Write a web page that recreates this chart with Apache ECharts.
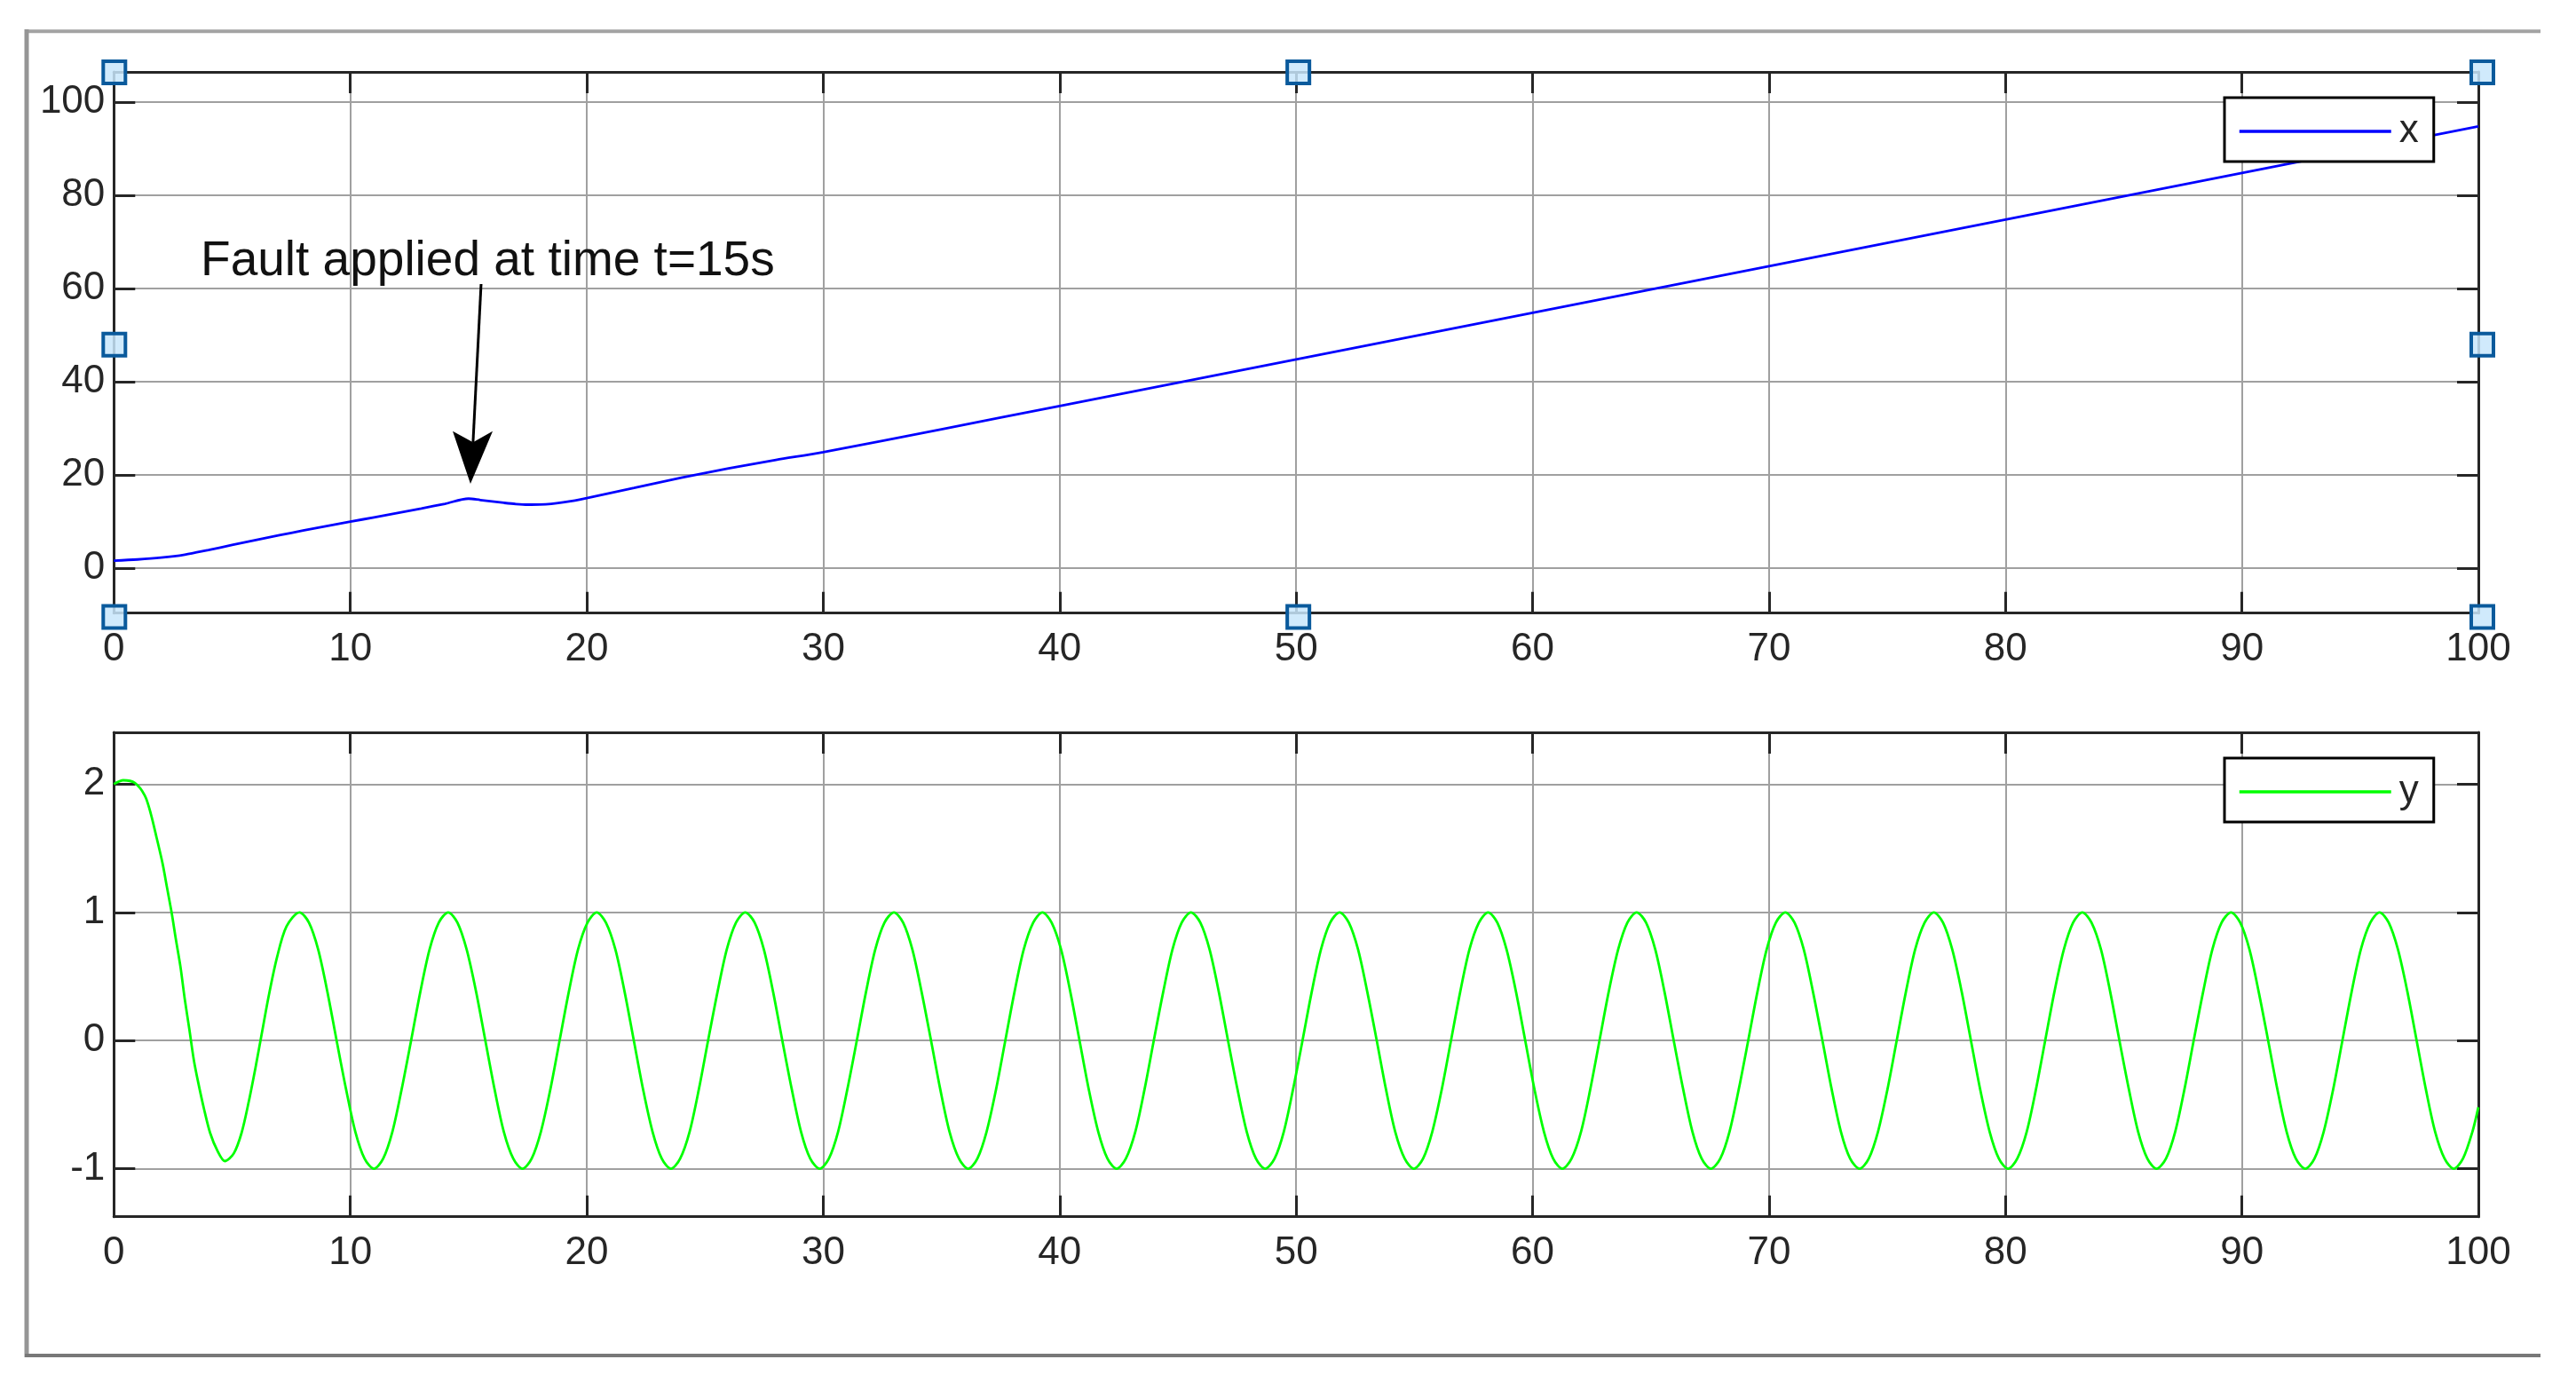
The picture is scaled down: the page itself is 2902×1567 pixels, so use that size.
<!DOCTYPE html>
<html>
<head>
<meta charset="utf-8">
<script src="https://cdn.jsdelivr.net/npm/echarts@6/dist/echarts.min.js"></script>
<style>
html,body{margin:0;padding:0;background:#ffffff;}
#c{width:2902px;height:1567px;}
</style>
</head>
<body>
<div id="c"></div>
<script>
// ---------------- data ----------------
const timeTicks = [0, 10, 20, 30, 40, 50, 60, 70, 80, 90, 100];
const posTicks = [0, 20, 40, 60, 80, 100];
const oscTicks = [-1, 0, 1, 2];

const posTime = [0, 1, 2, 3, 4, 5, 6, 7, 8, 9, 10, 11, 12, 13, 14, 15, 15.5, 16, 16.5, 17, 17.5, 18, 18.5, 19, 19.5, 20,
  22, 24, 26, 28, 30, 35, 40, 50, 60, 70, 80, 90, 100];
const posValue = [1.6, 1.85, 2.25, 2.9, 3.9, 4.95, 6.0, 7.05, 8.05, 9.0, 9.95, 10.9, 11.85, 12.8, 13.8, 14.9, 14.6, 14.3, 14.0, 13.75, 13.62, 13.65, 13.8, 14.1, 14.5, 15.0,
  17.2, 19.4, 21.4, 23.2, 24.9, 29.8, 34.8, 44.8, 54.8, 64.8, 74.8, 84.8, 94.8];

const oscTime = [0, 0.4, 0.88, 1.31, 1.56, 1.81, 2.06, 2.25, 2.44, 2.63, 2.82, 3.0, 3.19, 3.38, 3.57, 3.82, 4.07, 4.38, 4.69, 5.07, 5.4, 5.7, 6.0, 6.25, 6.55, 6.9, 7.3,
  7.85, 8.25, 8.64, 9.03, 9.42, 9.82, 10.21, 10.60, 11.00, 11.39, 11.78, 12.17, 12.57, 12.96, 13.35, 13.74,
  14.14, 14.53, 14.92, 15.32, 15.71, 16.10, 16.49, 16.89, 17.28, 17.67, 18.06, 18.46, 18.85, 19.24, 19.63, 20.03,
  20.42, 20.81, 21.21, 21.60, 21.99, 22.38, 22.78, 23.17, 23.56, 23.95, 24.35, 24.74, 25.13, 25.53, 25.92, 26.31,
  26.70, 27.10, 27.49, 27.88, 28.27, 28.67, 29.06, 29.45, 29.85, 30.24, 30.63, 31.02, 31.42, 31.81, 32.20, 32.59,
  32.99, 33.38, 33.77, 34.16, 34.56, 34.95, 35.34, 35.74, 36.13, 36.52, 36.91, 37.31, 37.70, 38.09, 38.48, 38.88,
  39.27, 39.66, 40.06, 40.45, 40.84, 41.23, 41.63, 42.02, 42.41, 42.80, 43.20, 43.59, 43.98, 44.38, 44.77, 45.16,
  45.55, 45.95, 46.34, 46.73, 47.12, 47.52, 47.91, 48.30, 48.69, 49.09, 49.48, 49.87, 50.27, 50.66, 51.05, 51.44,
  51.84, 52.23, 52.62, 53.01, 53.41, 53.80, 54.19, 54.59, 54.98, 55.37, 55.76, 56.16, 56.55, 56.94, 57.33, 57.73,
  58.12, 58.51, 58.90, 59.30, 59.69, 60.08, 60.48, 60.87, 61.26, 61.65, 62.05, 62.44, 62.83, 63.22, 63.62, 64.01,
  64.40, 64.80, 65.19, 65.58, 65.97, 66.37, 66.76, 67.15, 67.54, 67.94, 68.33, 68.72, 69.12, 69.51, 69.90, 70.29,
  70.69, 71.08, 71.47, 71.86, 72.26, 72.65, 73.04, 73.43, 73.83, 74.22, 74.61, 75.01, 75.40, 75.79, 76.18, 76.58,
  76.97, 77.36, 77.75, 78.15, 78.54, 78.93, 79.33, 79.72, 80.11, 80.50, 80.90, 81.29, 81.68, 82.07, 82.47, 82.86,
  83.25, 83.64, 84.04, 84.43, 84.82, 85.22, 85.61, 86.00, 86.39, 86.79, 87.18, 87.57, 87.96, 88.36, 88.75, 89.14,
  89.54, 89.93, 90.32, 90.71, 91.11, 91.50, 91.89, 92.28, 92.68, 93.07, 93.46, 93.86, 94.25, 94.64, 95.03, 95.43,
  95.82, 96.21, 96.60, 97.00, 97.39, 97.78, 98.17, 98.57, 98.96, 99.35, 99.75, 100];
const oscValue = [2.0, 2.03, 2.01, 1.91, 1.77, 1.58, 1.38, 1.19, 1.0, 0.78, 0.57, 0.32, 0.09, -0.15, -0.33, -0.54, -0.72, -0.86, -0.94, -0.88, -0.72, -0.48, -0.2, 0.05, 0.35, 0.65, 0.89,
  1, 0.92, 0.71, 0.38, 0, -0.38, -0.71, -0.92, -1, -0.92, -0.71, -0.38, 0, 0.38, 0.71, 0.92,
  1, 0.92, 0.71, 0.38, 0, -0.38, -0.71, -0.92, -1, -0.92, -0.71, -0.38, 0, 0.38, 0.71, 0.92,
  1, 0.92, 0.71, 0.38, 0, -0.38, -0.71, -0.92, -1, -0.92, -0.71, -0.38, 0, 0.38, 0.71, 0.92,
  1, 0.92, 0.71, 0.38, 0, -0.38, -0.71, -0.92, -1, -0.92, -0.71, -0.38, 0, 0.38, 0.71, 0.92,
  1, 0.92, 0.71, 0.38, 0, -0.38, -0.71, -0.92, -1, -0.92, -0.71, -0.38, 0, 0.38, 0.71, 0.92,
  1, 0.92, 0.71, 0.38, 0, -0.38, -0.71, -0.92, -1, -0.92, -0.71, -0.38, 0, 0.38, 0.71, 0.92,
  1, 0.92, 0.71, 0.38, 0, -0.38, -0.71, -0.92, -1, -0.92, -0.71, -0.38, 0, 0.38, 0.71, 0.92,
  1, 0.92, 0.71, 0.38, 0, -0.38, -0.71, -0.92, -1, -0.92, -0.71, -0.38, 0, 0.38, 0.71, 0.92,
  1, 0.92, 0.71, 0.38, 0, -0.38, -0.71, -0.92, -1, -0.92, -0.71, -0.38, 0, 0.38, 0.71, 0.92,
  1, 0.92, 0.71, 0.38, 0, -0.38, -0.71, -0.92, -1, -0.92, -0.71, -0.38, 0, 0.38, 0.71, 0.92,
  1, 0.92, 0.71, 0.38, 0, -0.38, -0.71, -0.92, -1, -0.92, -0.71, -0.38, 0, 0.38, 0.71, 0.92,
  1, 0.92, 0.71, 0.38, 0, -0.38, -0.71, -0.92, -1, -0.92, -0.71, -0.38, 0, 0.38, 0.71, 0.92,
  1, 0.92, 0.71, 0.38, 0, -0.38, -0.71, -0.92, -1, -0.92, -0.71, -0.38, 0, 0.38, 0.71, 0.92,
  1, 0.92, 0.71, 0.38, 0, -0.38, -0.71, -0.92, -1, -0.92, -0.71, -0.38, 0, 0.38, 0.71, 0.92,
  1, 0.92, 0.71, 0.38, 0, -0.38, -0.71, -0.92, -1, -0.92, -0.71, -0.52];

const annotationText = 'Fault applied at time t=15s';
const legendNames = ['x', 'y'];

// axis ranges
const timeMin = 0, timeMax = 100;
const posMin = -9.66, posMax = 106.47;
const oscMin = -1.374, oscMax = 2.404;

// ---------------- styling ----------------
const FONT = "'Liberation Sans', Arial, Helvetica, sans-serif";
const AXIS = '#262626';
const GRID = '#a0a0a0';

function zip(a, b) { return a.map((v, i) => [v, b[i]]); }

function visX(gridIndex, position, labels) {
  return {
    type: 'value', gridIndex, position, min: timeMin, max: timeMax, interval: 10, z: 1,
    axisLine: { show: true, onZero: false, lineStyle: { color: AXIS, width: 3 } },
    axisTick: { show: true, inside: true, length: 24, lineStyle: { color: AXIS, width: 3 } },
    axisLabel: { show: labels, color: AXIS, fontSize: 44, fontFamily: FONT, margin: 19 },
    splitLine: { show: false }
  };
}
function gridX(gridIndex) {
  return {
    type: 'value', gridIndex, position: 'bottom', min: timeMin, max: timeMax, interval: 10, z: 0,
    axisLine: { show: false }, axisTick: { show: false }, axisLabel: { show: false },
    splitLine: { show: true, lineStyle: { color: GRID, width: 2 } }
  };
}
function visY(gridIndex, position, min, max, ticks, labels) {
  return {
    type: 'value', gridIndex, position, min, max, z: 1,
    axisLine: { show: true, onZero: false, lineStyle: { color: AXIS, width: 3 } },
    axisTick: { show: true, inside: true, length: 24, customValues: ticks, lineStyle: { color: AXIS, width: 3 } },
    axisLabel: { show: labels, customValues: ticks, color: AXIS, fontSize: 44, fontFamily: FONT, margin: 10 },
    splitLine: { show: false }
  };
}
function gridY(gridIndex, min, max, ticks) {
  return {
    type: 'value', gridIndex, position: 'left', min, max, z: 0,
    axisLine: { show: false },
    axisTick: { show: false, customValues: ticks },
    axisLabel: { show: false, customValues: ticks },
    splitLine: { show: true, lineStyle: { color: GRID, width: 2 } }
  };
}
function legendBox(name, top) {
  return {
    data: [name], left: 2506, top, orient: 'horizontal',
    itemWidth: 171, itemHeight: 14, itemGap: 0,
    padding: [16, 17, 12, 15],
    borderColor: '#000000', borderWidth: 3, borderRadius: 0,
    backgroundColor: '#ffffff', selectedMode: false, z: 5,
    itemStyle: { opacity: 0, borderWidth: 0 },
    lineStyle: { width: 3.5 },
    textStyle: { color: AXIS, fontSize: 44, fontFamily: FONT, padding: [0, 0, 0, 4] }
  };
}

const chart = echarts.init(document.getElementById('c'), null, { renderer: 'canvas' });

const option = {
  animation: false,
  backgroundColor: '#ffffff',
  grid: [
    { left: 128.3, top: 81, width: 2663.7, height: 609.7, containLabel: false, outerBoundsMode: 'none' },
    { left: 128.3, top: 825, width: 2663.7, height: 545.7, containLabel: false, outerBoundsMode: 'none' }
  ],
  xAxis: [
    visX(0, 'bottom', true), visX(0, 'top', false), gridX(0),
    visX(1, 'bottom', true), visX(1, 'top', false), gridX(1)
  ],
  yAxis: [
    visY(0, 'left', posMin, posMax, posTicks, true), visY(0, 'right', posMin, posMax, posTicks, false), gridY(0, posMin, posMax, posTicks),
    visY(1, 'left', oscMin, oscMax, oscTicks, true), visY(1, 'right', oscMin, oscMax, oscTicks, false), gridY(1, oscMin, oscMax, oscTicks)
  ],
  legend: [legendBox(legendNames[0], 110), legendBox(legendNames[1], 854)],
  series: [
    {
      name: legendNames[0], type: 'line', xAxisIndex: 0, yAxisIndex: 0,
      data: zip(posTime, posValue), smooth: 0.3,
      symbol: 'none', symbolSize: 0, showSymbol: false, z: 2,
      lineStyle: { color: '#0000ff', width: 2.8 }, itemStyle: { color: '#0000ff' }
    },
    {
      name: legendNames[1], type: 'line', xAxisIndex: 3, yAxisIndex: 3,
      data: zip(oscTime, oscValue), smooth: 0.3,
      symbol: 'none', symbolSize: 0, showSymbol: false, z: 2,
      lineStyle: { color: '#00ff00', width: 2.8 }, itemStyle: { color: '#00ff00' }
    }
  ]
};
chart.setOption(option);

// ---------------- annotation & decorations ----------------
const P = (t, v) => chart.convertToPixel({ xAxisIndex: 0, yAxisIndex: 0 }, [t, v]);
const textAnchor = P(3.67, 65.7);
const arrowStart = P(15.53, 60.95);
const arrowNotch = P(15.19, 27.0);
const arrowTip = P(15.08, 18.1);
const arrowLeft = P(14.33, 29.4);
const arrowRight = P(16.02, 29.4);

const c0 = P(timeMin, posMax);
const c1 = P(timeMax, posMin);
const hxs = [c0[0] + 0.5, (c0[0] + c1[0] + 5) / 2, c1[0] + 4.5];
const hys = [c0[1] + 0.5, (c0[1] + c1[1] + 5) / 2, c1[1] + 4.3];
const handles = [];
hys.forEach((hy, j) => {
  hxs.forEach((hx, i) => {
    if (i === 1 && j === 1) return;
    handles.push({
      type: 'rect', z: 20,
      shape: { x: hx - 12.5, y: hy - 12.5, width: 25, height: 25 },
      style: { fill: 'rgba(200,230,252,0.85)', stroke: '#0a5a9c', lineWidth: 4 }
    });
  });
});

chart.setOption({
  graphic: [
    { type: 'line', z: 1, shape: { x1: 29, y1: 35.3, x2: 2862, y2: 35.3 }, style: { stroke: '#a3a3a3', lineWidth: 4 } },
    { type: 'line', z: 1, shape: { x1: 30, y1: 33, x2: 30, y2: 1529 }, style: { stroke: '#959595', lineWidth: 5 } },
    { type: 'line', z: 1, shape: { x1: 28, y1: 1527, x2: 2862, y2: 1527 }, style: { stroke: '#787878', lineWidth: 4 } },
    {
      type: 'text', z: 10, x: textAnchor[0], y: textAnchor[1],
      style: {
        text: annotationText, fill: '#111111',
        font: '55px ' + FONT,
        align: 'left', verticalAlign: 'middle', textAlign: 'left', textVerticalAlign: 'middle'
      }
    },
    {
      type: 'line', z: 10,
      shape: { x1: arrowStart[0], y1: arrowStart[1], x2: arrowNotch[0], y2: arrowNotch[1] },
      style: { stroke: '#000000', lineWidth: 3 }
    },
    {
      type: 'polygon', z: 10,
      shape: { points: [arrowTip, arrowRight, arrowNotch, arrowLeft] },
      style: { fill: '#000000' }
    }
  ].concat(handles)
});
</script>
</body>
</html>
